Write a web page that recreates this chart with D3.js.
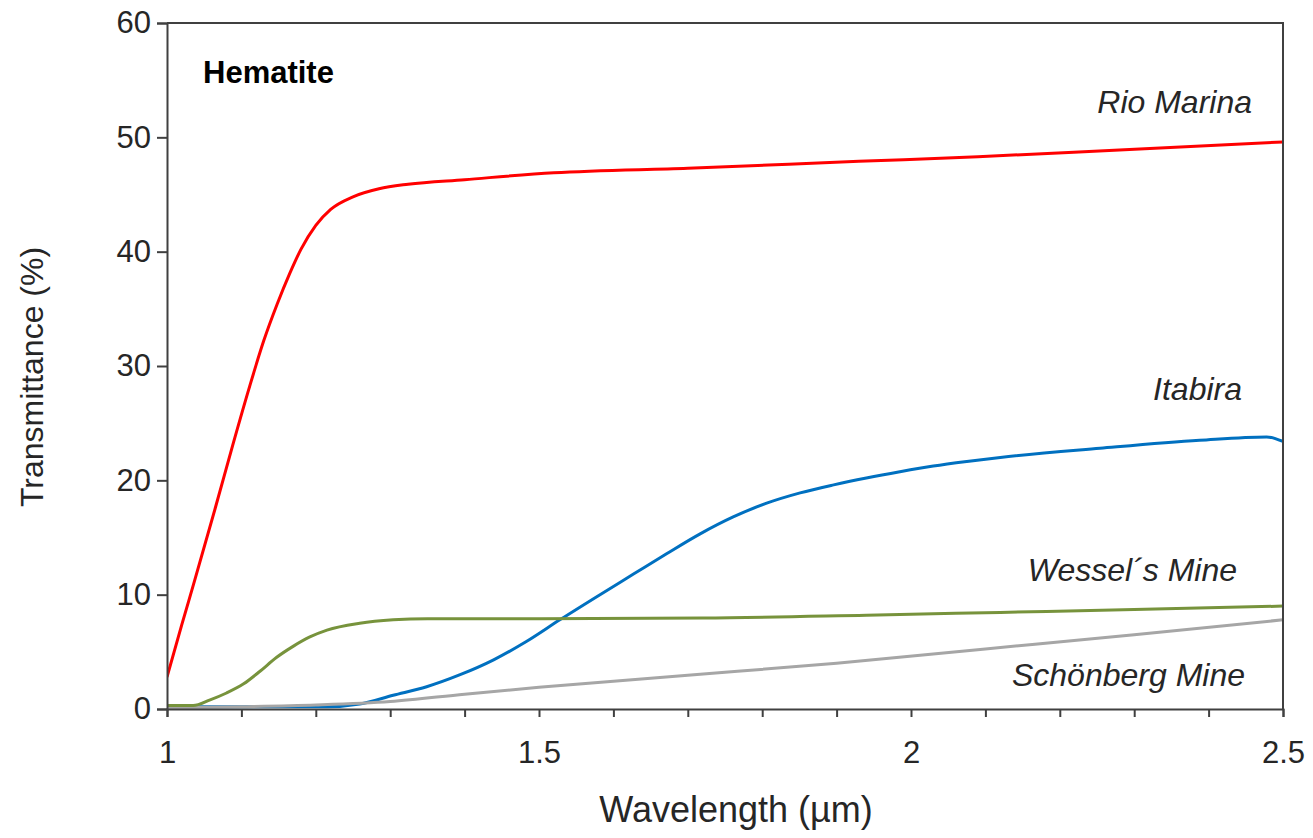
<!DOCTYPE html>
<html>
<head>
<meta charset="utf-8">
<script src="https://cdn.jsdelivr.net/npm/d3@7"></script>
<style>
  html, body { margin: 0; padding: 0; background: #fff; }
  svg { display: block; font-family: Arial, "Liberation Sans", sans-serif; }
</style>
</head>
<body>
<svg id="chart" width="1313" height="838"></svg>
<script>
// 读图得到的数据 (wavelength µm / transmittance %)
const rioWl = [1.0, 1.02, 1.037, 1.065, 1.088, 1.111, 1.13, 1.148, 1.165, 1.18, 1.2, 1.22, 1.25, 1.285, 1.324, 1.4, 1.52, 1.7, 1.93, 2.09, 2.28, 2.5];
const rioT  = [2.8, 7.4, 11.2, 17.6, 23.0, 28.2, 32.2, 35.4, 38.1, 40.2, 42.3, 43.7, 44.8, 45.5, 45.9, 46.3, 46.9, 47.3, 47.9, 48.3, 48.9, 49.6];

const itaWl = [1.0, 1.1, 1.215, 1.259, 1.304, 1.349, 1.394, 1.439, 1.483, 1.528, 1.582, 1.627, 1.672, 1.716, 1.761, 1.806, 1.851, 1.896, 1.94, 1.985, 2.03, 2.075, 2.12, 2.254, 2.388, 2.478, 2.5];
const itaT  = [0.2, 0.2, 0.2, 0.44, 1.2, 1.95, 3.0, 4.3, 5.9, 7.8, 10.0, 11.8, 13.6, 15.3, 16.8, 18.0, 18.9, 19.6, 20.2, 20.75, 21.25, 21.65, 22.0, 22.8, 23.5, 23.8, 23.4];

const wesWl = [1.0, 1.035, 1.058, 1.08, 1.103, 1.125, 1.147, 1.17, 1.192, 1.215, 1.259, 1.304, 1.35, 1.5, 1.72, 1.94, 2.12, 2.3, 2.5];
const wesT  = [0.3, 0.3, 0.8, 1.4, 2.2, 3.3, 4.5, 5.5, 6.3, 6.9, 7.5, 7.8, 7.9, 7.9, 7.95, 8.2, 8.45, 8.7, 9.0];

const schWl = [1.0, 1.1, 1.2, 1.3, 1.4, 1.5, 1.7, 1.9, 2.1, 2.3, 2.5];
const schT  = [0.1, 0.2, 0.35, 0.65, 1.3, 1.9, 2.95, 4.0, 5.25, 6.5, 7.8];

const xTickLabels = [1, 1.5, 2, 2.5];
const yTicks = [0, 10, 20, 30, 40, 50, 60];

// 画的顺序: 蓝 -> 灰 -> 绿 -> 红
const series = [
  { name: 'Itabira',        wl: itaWl, t: itaT, color: '#0070c0', lx: 1242, ly: 400 },
  { name: 'Schönberg Mine', wl: schWl, t: schT, color: '#a6a6a6', lx: 1245, ly: 686 },
  { name: 'Wessel´s Mine',  wl: wesWl, t: wesT, color: '#77933c', lx: 1237, ly: 581 },
  { name: 'Rio Marina',     wl: rioWl, t: rioT, color: '#ff0000', lx: 1252, ly: 113 }
];

const width = 1313, height = 838;
const margin = { top: 23, right: 30, bottom: 129, left: 167 };
const axisColor = '#404040', textColor = '#262626';

const svg = d3.select('#chart');

const x = d3.scaleLinear([1, 2.5], [margin.left, width - margin.right]);
const y = d3.scaleLinear([0, 60], [height - margin.bottom, margin.top]);

svg.append('defs').append('clipPath').attr('id', 'plot-clip')
  .append('rect')
    .attr('x', margin.left)
    .attr('y', margin.top)
    .attr('width', width - margin.left - margin.right)
    .attr('height', height - margin.top - margin.bottom);

// 曲线
const line = d3.line()
  .x(d => x(d[0]))
  .y(d => y(d[1]))
  .curve(d3.curveMonotoneX);

svg.append('g')
  .attr('clip-path', 'url(#plot-clip)')
  .selectAll('path')
  .data(series)
  .join('path')
    .attr('d', d => line(d.wl.map((w, i) => [w, d.t[i]])))
    .attr('fill', 'none')
    .attr('stroke', d => d.color)
    .attr('stroke-width', 3)
    .attr('stroke-linejoin', 'round');

// 外框 (上, 右)
svg.append('path')
  .attr('d', `M${x(1)},${y(60)}H${x(2.5)}V${y(0)}`)
  .attr('fill', 'none')
  .attr('stroke', axisColor)
  .attr('stroke-width', 2);

// x 轴: 每 0.1 一个刻度, 只标 1, 1.5, 2, 2.5
const xAxis = d3.axisBottom(x)
  .tickValues(d3.range(10, 26).map(d => d / 10))
  .tickSize(8)
  .tickPadding(24)
  .tickFormat(d => xTickLabels.some(v => Math.abs(v - d) < 1e-9) ? d3.format('~g')(d) : '');

const gx = svg.append('g')
  .attr('transform', `translate(0,${y(0)})`)
  .call(xAxis);
gx.select('.domain').attr('stroke', axisColor).attr('stroke-width', 2);
gx.selectAll('.tick line').attr('stroke', axisColor).attr('stroke-width', 2);
gx.selectAll('.tick text')
  .attr('font-size', 31)
  .attr('fill', textColor)
  .attr('font-family', 'Arial, "Liberation Sans", sans-serif');

// y 轴
const yAxis = d3.axisLeft(y)
  .tickValues(yTicks)
  .tickSize(10)
  .tickPadding(6);

const gy = svg.append('g')
  .attr('transform', `translate(${x(1)},0)`)
  .call(yAxis);
gy.select('.domain').attr('stroke', axisColor).attr('stroke-width', 2);
gy.selectAll('.tick line').attr('stroke', axisColor).attr('stroke-width', 2);
gy.selectAll('.tick text')
  .attr('font-size', 31)
  .attr('fill', textColor)
  .attr('font-family', 'Arial, "Liberation Sans", sans-serif');

// 轴标题
svg.append('text')
  .attr('x', 736)
  .attr('y', 822)
  .attr('text-anchor', 'middle')
  .attr('font-size', 36)
  .attr('fill', textColor)
  .text('Wavelength (µm)');

svg.append('text')
  .attr('transform', `translate(43,${(y(0) + y(60)) / 2 + 11}) rotate(-90)`)
  .attr('text-anchor', 'middle')
  .attr('font-size', 32)
  .attr('fill', textColor)
  .text('Transmittance (%)');

// 图内标注
svg.append('text')
  .attr('x', 203)
  .attr('y', 83)
  .attr('font-size', 31)
  .attr('font-weight', 'bold')
  .attr('fill', '#000')
  .text('Hematite');

svg.append('g')
  .selectAll('text')
  .data(series)
  .join('text')
    .attr('x', d => d.lx)
    .attr('y', d => d.ly)
    .attr('text-anchor', 'end')
    .attr('font-size', 32)
    .attr('font-style', 'italic')
    .attr('fill', textColor)
    .text(d => d.name);
</script>
</body>
</html>
